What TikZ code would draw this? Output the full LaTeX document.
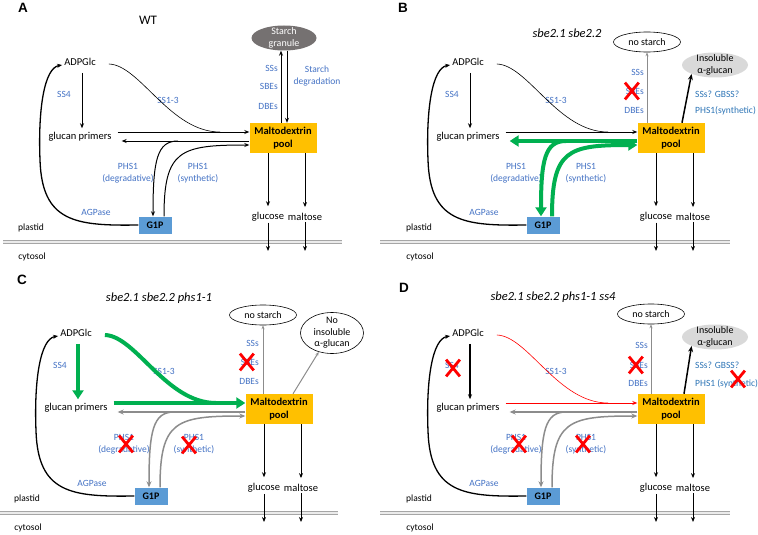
\documentclass[tikz,border=0pt]{standalone}
\usepackage{fontspec}
\setmainfont{Carlito}
\newfontfamily\letterfont{Liberation Sans}
\usetikzlibrary{arrows.meta,shapes.geometric,shapes.misc}

\definecolor{poolorange}{HTML}{FFC000}
\definecolor{gonepblue}{HTML}{5B9BD5}
\definecolor{lblblue}{HTML}{4472C4}
\definecolor{lblbluedark}{HTML}{2E75B6}
\definecolor{arrgreen}{HTML}{00B050}
\definecolor{arrgray}{HTML}{8C8C8C}
\definecolor{granulegray}{HTML}{757171}
\definecolor{insolgray}{HTML}{D9D9D9}
\definecolor{envgray}{HTML}{A6A6A6}

\tikzset{
  txt/.style={font=\fontsize{10.5}{12}\selectfont, inner sep=1pt},
  side/.style={font=\fontsize{9.5}{11}\selectfont, inner sep=1pt},
  lbl/.style={font=\fontsize{9.5}{11.5}\selectfont, text=lblblue, inner sep=1pt, align=center},
  lbltwo/.style={font=\fontsize{9.5}{11.5}\selectfont, text=lblbluedark, inner sep=1pt},
  wtlabel/.style={font=\fontsize{13}{15}\selectfont},
  geno/.style={font=\fontsize{12.5}{15}\selectfont\itshape},
  letter/.style={font=\letterfont\bfseries\fontsize{13.5}{16}\selectfont},
  poolbox/.style={fill=poolorange, minimum width=67pt, minimum height=30pt, inner sep=0pt, align=center, font=\bfseries\fontsize{10.5}{12.5}\selectfont},
  gbox/.style={fill=gonepblue, minimum width=33pt, minimum height=17pt, inner sep=0pt, font=\bfseries\fontsize{10}{12}\selectfont},
  granule/.style={ellipse, fill=granulegray, text=white, minimum width=65pt, minimum height=25pt, inner xsep=0pt, inner ysep=-3pt, align=center, font=\fontsize{10}{11.5}\selectfont},
  nost/.style={ellipse, draw, line width=0.6pt, minimum width=67pt, minimum height=20pt, inner sep=0pt, font=\fontsize{10}{12}\selectfont},
  insol/.style={ellipse, fill=insolgray, minimum width=66pt, minimum height=25pt, inner xsep=0pt, inner ysep=-3pt, align=center, font=\fontsize{10}{11.5}\selectfont},
  noins/.style={ellipse, draw, line width=0.6pt, minimum width=63pt, minimum height=41pt, inner xsep=0pt, inner ysep=-3pt, align=center, font=\fontsize{10}{11.5}\selectfont},
  nox/.style={cross out, draw=red, line width=2.8pt, minimum width=11pt, minimum height=14pt, inner sep=0pt},
  membrane/.style={draw=envgray, line width=1.2pt, double=black!8, double distance=1.2pt},
  blk/.style={draw=black, line width=1pt, -{Stealth[length=5pt,width=4pt]}},
  blkthick/.style={draw=black, line width=1.5pt, -{Stealth[length=6pt,width=5pt]}},
  thinblk/.style={draw=black, line width=0.6pt},
  grn/.style={draw=arrgreen, line width=4pt, -{Triangle[length=9pt,width=11pt]}},
  grnline/.style={draw=arrgreen, line width=4pt},
  gry/.style={draw=arrgray, line width=1.5pt, -{Stealth[length=6pt,width=5pt]}},
  thingray/.style={draw=arrgray, line width=0.7pt, -{Stealth[length=4pt,width=3pt]}},
  redarr/.style={draw=red, line width=1pt, -{Stealth[length=5pt,width=4pt]}},
  redline/.style={draw=red, line width=0.6pt},
  % arrow looks that change from panel to panel, black by default
  ssfourarr/.style={blk}, sslinearr/.style={thinblk}, fwdarr/.style={blk},
  backarr/.style={blk}, degarr/.style={blk}, synarr/.style={blk},
  agparr/.style={draw=black, line width=1.3pt, -{Stealth[length=5pt,width=4pt]}},
}

% the parts every panel shares; #1 = left end of the envelope
\newcommand{\panelbase}[1]{%
  \node[txt] (adp) at (80,62) {ADPGlc};
  \node[txt] (prim) at (80,137) {glucan primers};
  \node[poolbox] (pool) at (283,138) {Maltodextrin\\pool};
  \node[gbox] (g1p) at (155,225) {G1P};
  \node[txt] (glc) at (268,217) {glucose};
  \node[txt] (mal) at (305,217) {maltose};
  \node[side] (plastid) at (31,228) {plastid};
  \node[side] (cyto) at (32,257) {cytosol};
  \node[lbl] (ss4) at (64,94) {SS4};
  \node[lbl] (ss13) at (168,100) {SS1-3};
  \node[lbl] (phsdeg) at (128,173) {PHS1\\(degradative)};
  \node[lbl] (phssyn) at (198,173) {PHS1\\(synthetic)};
  \node[lbl] (agp) at (96,212) {AGPase};
  % envelope
  \coordinate (env-l) at (#1,242);
  \coordinate (env-r) at (342,242);
  \draw[membrane] (env-l) -- (env-r);
  \coordinate (glc-out) at (268,251);
  \coordinate (mal-out) at (305,251);
  % pathway
  \draw[ssfourarr, shorten <=6pt, shorten >=3pt] ([xshift=2pt]adp.south) -- ([xshift=2pt]prim.north);
  \coordinate (merge) at (220,132);
  \draw[sslinearr] ([shift={(12,2)}]adp.east) .. controls (140,65) and (170,132) .. (merge);
  \draw[fwdarr] ([shift={(5,-5)}]prim.east) -- ([shift={(0,-6)}]pool.west);
  \draw[backarr] ([shift={(0,3)}]pool.west) -- ([shift={(9,4)}]prim.east);
  \coordinate (split) at (178,141);
  \draw[degarr] (split) .. controls (157,141) and (153,160) .. ([xshift=-2pt]g1p.north);
  \draw[synarr] ([xshift=9pt]g1p.north) .. controls (164,150) and (180,145) .. ([shift={(0,7)}]pool.west);
  \draw[agparr] (g1p.west) .. controls (75,226) and (42,222) .. (40,160)
    .. controls (38,110) and (44,68) .. ([shift={(-1,3)}]adp.west);
  \draw[blk, shorten >=5pt] (pool.south -| glc) -- (glc.north);
  \draw[blk, shorten >=5pt] (pool.south -| mal) -- (mal.north);
  \draw[blk] (glc.south) -- (glc-out);
  \draw[blk] (mal.south) -- (mal-out);
}

\begin{document}
\begin{tikzpicture}[x=1pt, y=-1pt, line join=round]
\useasboundingbox (0,0) rectangle (758,535);

\node[letter] (lA) at (23,8) {A};
\node[letter] (lB) at (403,8) {B};
\node[letter] (lC) at (22,280) {C};
\node[letter] (lD) at (404,288) {D};

% A: wild type
\begin{scope}[name prefix=A-]
  \panelbase{3}
  \node[wtlabel] (geno) at (148,20) {WT};
  \node[granule] (granule) at (284,38) {Starch\\granule};
  \coordinate (up) at ([xshift=-3pt]granule.south);
  \coordinate (dn) at ([xshift=3pt]granule.south);
  \draw[blk] (up |- pool.north) -- (up);
  \draw[blk] (dn) -- (dn |- pool.north);
  \node[lbl, anchor=east] (sss) at (279,68) {SSs};
  \node[lbl, anchor=east] (sbe) at (279,86) {SBEs};
  \node[lbl, anchor=east] (dbe) at (279,106) {DBEs};
  \node[lbl] (sdeg) at (317,76) {Starch\\degradation};
\end{scope}

% B: sbe2.1 sbe2.2
\begin{scope}[shift={(388,0)}, name prefix=B-, backarr/.style={grn}, degarr/.style={grn}, synarr/.style={grn}]
  \panelbase{-8}
  \node[geno] (geno) at (179,33) {sbe2.1 sbe2.2};
  \node[nost] (nostarch) at (259,42) {no starch};
  \node[insol] (insol) at (327,65) {Insoluble\\α-glucan};
  \draw[thingray] (nostarch.south |- pool.north) -- (nostarch.south);
  \draw[blkthick] ([xshift=11pt]pool.north) -- (insol.south west);
  \node[lbl, anchor=east] (sss) at (257,72) {SSs};
  \node[lbl, anchor=east] (sbe) at (257,91) {SBEs};
  \node[lbl, anchor=east] (dbe) at (257,110) {DBEs};
  \node[nox] (xsbe) at ([xshift=-3pt]sbe.center) {};
  \node[lbltwo, anchor=west] (gbss) at (306,94) {SSs? GBSS?};
  \node[lbltwo, anchor=west] (phsins) at (306,111) {PHS1(synthetic)};
\end{scope}

% C: sbe2.1 sbe2.2 phs1-1
\begin{scope}[shift={(-4,271)}, name prefix=C-, ssfourarr/.style={grn}, sslinearr/.style={grnline}, fwdarr/.style={grn}, backarr/.style={gry}, degarr/.style={gry}, synarr/.style={gry}]
  \panelbase{4}
  \node[geno] (geno) at (163,27) {sbe2.1 sbe2.2 phs1-1};
  \node[nost] (nostarch) at (267,44) {no starch};
  \node[noins] (noins) at (336,62) {No\\insoluble\\α-glucan};
  \draw[thingray] (nostarch.south |- pool.north) -- (nostarch.south);
  \draw[thingray, line width=1pt] ([xshift=14pt]pool.north) -- (noins.235);
  \node[lbl, anchor=east] (sss) at (264,72) {SSs};
  \node[lbl, anchor=east] (sbe) at (264,91) {SBEs};
  \node[lbl, anchor=east] (dbe) at (264,110) {DBEs};
  \node[nox] (xsbe) at ([xshift=-3pt]sbe.center) {};
  \node[nox] (xdeg) at ([xshift=2pt]phsdeg.center) {};
  \node[nox] (xsyn) at ([shift={(-5,1)}]phssyn.center) {};
\end{scope}

% D: sbe2.1 sbe2.2 phs1-1 ss4
\begin{scope}[shift={(388,271)}, name prefix=D-, ssfourarr/.style={blk, line width=1.3pt}, sslinearr/.style={redline}, fwdarr/.style={redarr}, backarr/.style={gry}, degarr/.style={gry}, synarr/.style={gry}]
  \panelbase{-8}
  \node[geno] (geno) at (165,26) {sbe2.1 sbe2.2 phs1-1 ss4};
  \node[nost] (nostarch) at (263,43) {no starch};
  \node[insol] (insol) at (327,66) {Insoluble\\α-glucan};
  \draw[thingray] (nostarch.south |- pool.north) -- (nostarch.south);
  \draw[blkthick] ([xshift=13pt]pool.north) -- (insol.south west);
  \node[lbl, anchor=east] (sss) at (261,74) {SSs};
  \node[lbl, anchor=east] (sbe) at (261,94) {SBEs};
  \node[lbl, anchor=east] (dbe) at (261,112) {DBEs};
  \node[lbltwo, anchor=west] (gbss) at (306,94) {SSs? GBSS?};
  \node[lbltwo, anchor=west] (phsins) at (306,113) {PHS1 (synthetic)};
  \node[nox] (xss4) at ([shift={(1,3)}]ss4.center) {};
  \node[nox] (xsbe) at ([xshift=-3pt]sbe.center) {};
  \node[nox] (xdeg) at ([xshift=3pt]phsdeg.center) {};
  \node[nox] (xsyn) at ([xshift=-3pt]phssyn.center) {};
  \node[nox] (xins) at (350,108) {};
\end{scope}
\end{tikzpicture}
\end{document}
